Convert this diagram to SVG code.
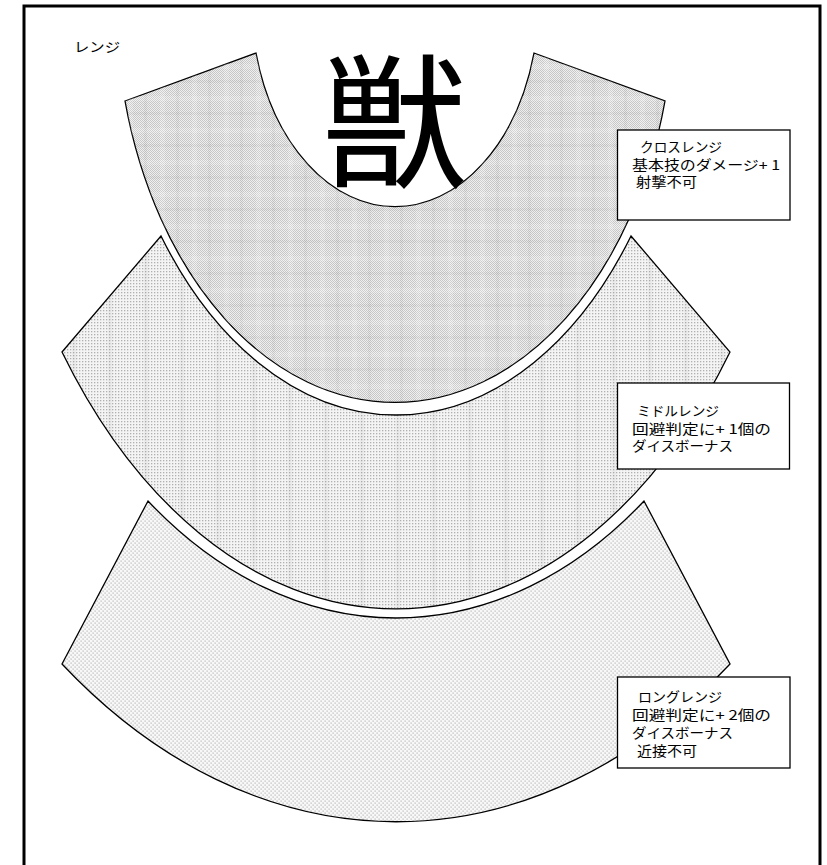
<svg xmlns="http://www.w3.org/2000/svg" width="827" height="865" viewBox="0 0 827 865">
  <style>
    .band { stroke: #000; stroke-width: 1.3; stroke-linejoin: miter; }
    .box { fill: #fff; stroke: #000; stroke-width: 1.3; }
    .t { font-family: "Noto Sans CJK JP", "Noto Sans", sans-serif; font-size: 13.5px; fill: #000; }
    .big { font-family: "Noto Sans CJK JP", sans-serif; font-size: 145px; font-weight: 400; fill: #000; }
  </style>
  <defs>
    <pattern id="pClose" width="2" height="2" patternUnits="userSpaceOnUse">
      <rect width="2" height="2" fill="#efefef"/>
      <rect x="0" y="0" width="1" height="1" fill="#c6c6c6"/>
      <rect x="1" y="1" width="1" height="1" fill="#c6c6c6"/>
    </pattern>
    <pattern id="pPlaid" width="32" height="32" patternUnits="userSpaceOnUse">
      <rect x="0" y="0" width="32" height="5" fill="#fff" fill-opacity="0.15"/>
      <rect x="0" y="0" width="5" height="32" fill="#fff" fill-opacity="0.15"/>
      <rect x="0" y="16" width="32" height="3" fill="#000" fill-opacity="0.03"/>
      <rect x="16" y="0" width="3" height="32" fill="#000" fill-opacity="0.03"/>
    </pattern>
    <pattern id="pMid" width="3" height="3" patternUnits="userSpaceOnUse">
      <rect width="3" height="3" fill="#f4f4f4"/>
      <rect x="1" y="1" width="1.3" height="1.3" fill="#b0b0b0"/>
    </pattern>
    <pattern id="pMidStripe" width="36" height="36" patternUnits="userSpaceOnUse">
      <rect x="0" y="0" width="4" height="36" fill="#000" fill-opacity="0.035"/>
    </pattern>
    <pattern id="pLong" width="4" height="4" patternUnits="userSpaceOnUse">
      <rect width="4" height="4" fill="#f8f8f8"/>
      <rect x="0.5" y="0.5" width="1.2" height="1.2" fill="#b4b4b4"/>
      <rect x="2.5" y="2.5" width="1.2" height="1.2" fill="#b4b4b4"/>
    </pattern>
  </defs>

  <rect width="827" height="865" fill="#fff"/>

  <g id="frame">
    <path d="M24,870 V6 H820 V870" fill="none" stroke="#000" stroke-width="3"/>
  </g>

  <g id="title">
    <text class="t" x="74" y="52" textLength="46" lengthAdjust="spacingAndGlyphs">レンジ</text>
  </g>

  <g id="band-close">
    <path class="band" fill="url(#pClose)" d="M125,101 L256,53 A144,208 0 0,0 534,53 L665,101 A279,403 0 0,1 125,101 Z"/>
    <path fill="url(#pPlaid)" d="M125,101 L256,53 A144,208 0 0,0 534,53 L665,101 A279,403 0 0,1 125,101 Z"/>
  </g>

  <g id="band-middle">
    <path class="band" fill="url(#pMid)" d="M62,352 L161,236 A294.6,451 0 0,0 631,236 L730,352 A417.9,644 0 0,1 62,352 Z"/>
    <path fill="url(#pMidStripe)" d="M62,352 L161,236 A294.6,451 0 0,0 631,236 L730,352 A417.9,644 0 0,1 62,352 Z"/>
  </g>

  <g id="band-long">
    <path class="band" fill="url(#pLong)" d="M62,664 L148,501 A414.6,589 0 0,0 644,501 L730,664 A558,793 0 0,1 62,664 Z"/>
  </g>

  <g id="beast">
    <text class="big" x="395" y="177" text-anchor="middle">獣</text>
  </g>

  <g id="box-close">
    <rect class="box" x="617.5" y="130" width="172.5" height="90"/>
    <text class="t" x="640" y="152" textLength="82" lengthAdjust="spacingAndGlyphs">クロスレンジ</text>
    <text class="t" x="632" y="169.5" textLength="148" lengthAdjust="spacingAndGlyphs">基本技のダメージ+ 1</text>
    <text class="t" x="636" y="187" textLength="61" lengthAdjust="spacingAndGlyphs">射撃不可</text>
  </g>

  <g id="box-middle">
    <rect class="box" x="617.5" y="383" width="172" height="86"/>
    <text class="t" x="637" y="415.5" textLength="82" lengthAdjust="spacingAndGlyphs">ミドルレンジ</text>
    <text class="t" x="632" y="433.5" textLength="139" lengthAdjust="spacingAndGlyphs">回避判定に+ 1個の</text>
    <text class="t" x="632" y="450.5" textLength="101" lengthAdjust="spacingAndGlyphs">ダイスボーナス</text>
  </g>

  <g id="box-long">
    <rect class="box" x="617.5" y="677" width="172.5" height="91"/>
    <text class="t" x="638" y="701.5" textLength="84" lengthAdjust="spacingAndGlyphs">ロングレンジ</text>
    <text class="t" x="632" y="719.5" textLength="139" lengthAdjust="spacingAndGlyphs">回避判定に+ 2個の</text>
    <text class="t" x="632" y="737.5" textLength="101" lengthAdjust="spacingAndGlyphs">ダイスボーナス</text>
    <text class="t" x="637" y="755.5" textLength="60" lengthAdjust="spacingAndGlyphs">近接不可</text>
  </g>
</svg>
